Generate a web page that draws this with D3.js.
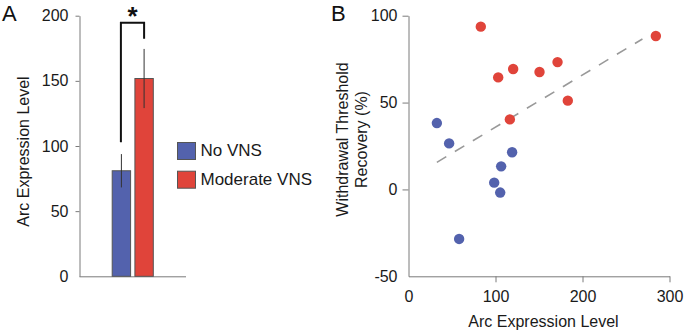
<!DOCTYPE html>
<html>
<head>
<meta charset="utf-8">
<script src="https://cdn.jsdelivr.net/npm/d3@7"></script>
<style>
  html, body { margin: 0; padding: 0; background: #fff; }
  svg { display: block; font-family: "Liberation Sans", Arial, sans-serif; }
</style>
</head>
<body>
<svg id="chart" width="685" height="332"></svg>
<script>
// ---------- Data ----------
const barCategories = ["No VNS", "Moderate VNS"];
const barMeans = [81, 151.8];
const barErrors = [12.8, 22.7];
const yTicksA = [0, 50, 100, 150, 200];
const sigBracketY = [102.8, 194.6, 182.3]; // left bottom, top, right bottom (Arc level units)
const sigLabel = "*";

const noVnsX = [32.6, 46.7, 119.1, 106.5, 98.5, 105.4, 58.2];
const noVnsY = [38.2, 26.5, 21.4, 13.3, 3.9, -1.8, -28.5];
const modVnsX = [83.1, 284.3, 171.3, 120.3, 150.6, 103.1, 183.1, 116.5];
const modVnsY = [93.7, 88.3, 73.3, 69.3, 67.6, 64.5, 51.1, 40.3];
const fitLineX = [32.6, 268.9];
const fitLineY = [15.6, 86.6];
const xTicksB = [0, 100, 200, 300];
const yTicksB = [-50, 0, 50, 100];

const colors = ["#5362ad", "#e0443a"];
const axisColor = "#7a7a7a";
const textColor = "#1a1a1a";

const svg = d3.select("#chart");

// ---------- Panel A ----------
const yA = d3.scaleLinear().domain([0, 200]).range([276.3, 15.7]);
const xA = d3.scaleBand().domain(barCategories).range([79.5, 186]).paddingInner(0.19).paddingOuter(1.44);

const gA = svg.append("g");

// y axis
const axA = gA.append("g").attr("transform", "translate(79.5,0)")
  .call(d3.axisLeft(yA).tickValues(yTicksA).tickFormat(d => String(d)).tickSize(4).tickSizeOuter(0).tickPadding(7));
axA.select(".domain").attr("stroke", axisColor);
axA.selectAll(".tick line").attr("stroke", axisColor);
axA.selectAll(".tick").filter(d => d === 0).select("line").remove();
axA.selectAll(".tick text").attr("font-size", 16).attr("fill", textColor).attr("font-family", "Liberation Sans, Arial, sans-serif");

// x baseline
gA.append("line").attr("x1", 79.5).attr("x2", 186).attr("y1", yA(0) + 0.5).attr("y2", yA(0) + 0.5)
  .attr("stroke", axisColor);

// bars
gA.selectAll("rect.bar").data(barCategories).join("rect")
  .attr("class", "bar")
  .attr("x", d => xA(d))
  .attr("width", xA.bandwidth())
  .attr("y", (d, i) => yA(barMeans[i]))
  .attr("height", (d, i) => yA(0) - yA(barMeans[i]))
  .attr("fill", (d, i) => colors[i])
  .attr("stroke", "#555").attr("stroke-width", 1);

// error bars
gA.selectAll("line.err").data(barCategories).join("line")
  .attr("class", "err")
  .attr("x1", d => xA(d) + xA.bandwidth() / 2)
  .attr("x2", d => xA(d) + xA.bandwidth() / 2)
  .attr("y1", (d, i) => yA(barMeans[i] + barErrors[i]))
  .attr("y2", (d, i) => yA(barMeans[i] - barErrors[i]))
  .attr("stroke", "#333").attr("stroke-width", 1);

// significance bracket
const bxL = xA(barCategories[0]) + xA.bandwidth() / 2 - 0.5;
const bxR = xA(barCategories[1]) + xA.bandwidth() / 2;
gA.append("path")
  .attr("d", `M${bxL},${yA(sigBracketY[0])}V${yA(sigBracketY[1])}H${bxR}V${yA(sigBracketY[2])}`)
  .attr("fill", "none").attr("stroke", "#111").attr("stroke-width", 2);
gA.append("text").attr("x", (bxL + bxR) / 2).attr("y", 25)
  .attr("text-anchor", "middle").attr("font-size", 26).attr("font-weight", "bold")
  .attr("fill", "#111").text(sigLabel);

// y title
gA.append("text").attr("transform", "translate(28.5,151.5) rotate(-90)")
  .attr("text-anchor", "middle").attr("font-size", 16).attr("fill", textColor)
  .text("Arc Expression Level");

// panel label
svg.append("text").attr("x", 2).attr("y", 21).attr("font-size", 22).attr("fill", "#111").text("A");

// legend
const leg = svg.append("g");
barCategories.forEach((c, i) => {
  leg.append("rect").attr("x", 177.5).attr("y", 142.5 + i * 28.7).attr("width", 18).attr("height", 17)
    .attr("fill", colors[i]).attr("stroke", "#555").attr("stroke-width", 1);
  leg.append("text").attr("x", 200.5).attr("y", 156.3 + i * 28.3).attr("font-size", 17)
    .attr("fill", textColor).text(c);
});

// ---------- Panel B ----------
const xB = d3.scaleLinear().domain([0, 300]).range([408.5, 669.5]);
const yB = d3.scaleLinear().domain([-50, 100]).range([276.3, 15.7]);
const gB = svg.append("g");

const axBx = gB.append("g").attr("transform", `translate(0,${yB(-50)})`)
  .call(d3.axisBottom(xB).tickValues(xTicksB).tickFormat(d => String(d)).tickSize(6).tickSizeOuter(0).tickPadding(8));
axBx.select(".domain").attr("stroke", axisColor);
axBx.selectAll(".tick line").attr("stroke", axisColor);
axBx.selectAll(".tick").filter(d => d === 0).select("line").remove();
axBx.selectAll(".tick text").attr("font-size", 16).attr("fill", textColor).attr("font-family", "Liberation Sans, Arial, sans-serif");

const axBy = gB.append("g").attr("transform", `translate(${xB(0)},0)`)
  .call(d3.axisLeft(yB).tickValues(yTicksB).tickFormat(d => String(d)).tickSize(6).tickSizeOuter(0).tickPadding(5));
axBy.select(".domain").attr("stroke", axisColor);
axBy.selectAll(".tick line").attr("stroke", axisColor);
axBy.selectAll(".tick").filter(d => d === -50).select("line").remove();
axBy.selectAll(".tick text").attr("font-size", 16).attr("fill", textColor).attr("font-family", "Liberation Sans, Arial, sans-serif");

// fit line
gB.append("line")
  .attr("x1", xB(fitLineX[0])).attr("y1", yB(fitLineY[0]))
  .attr("x2", xB(fitLineX[1])).attr("y2", yB(fitLineY[1]))
  .attr("stroke", "#999").attr("stroke-width", 1.6).attr("stroke-dasharray", "11,10");

// points
const ptsNo = noVnsX.map((x, i) => [x, noVnsY[i]]);
const ptsMod = modVnsX.map((x, i) => [x, modVnsY[i]]);
gB.selectAll("circle.no").data(ptsNo).join("circle").attr("class", "no")
  .attr("cx", d => xB(d[0])).attr("cy", d => yB(d[1])).attr("r", 5.2).attr("fill", colors[0]);
gB.selectAll("circle.mod").data(ptsMod).join("circle").attr("class", "mod")
  .attr("cx", d => xB(d[0])).attr("cy", d => yB(d[1])).attr("r", 5.2).attr("fill", colors[1]);

// titles
gB.append("text").attr("x", 543.5).attr("y", 327.3).attr("text-anchor", "middle")
  .attr("font-size", 16).attr("fill", textColor).text("Arc Expression Level");
gB.append("text").attr("transform", "translate(348.4,139.5) rotate(-90)").attr("text-anchor", "middle")
  .attr("font-size", 16).attr("fill", textColor).text("Withdrawal Threshold");
gB.append("text").attr("transform", "translate(366.5,139.5) rotate(-90)").attr("text-anchor", "middle")
  .attr("font-size", 16).attr("fill", textColor).text("Recovery (%)");

svg.append("text").attr("x", 331).attr("y", 21).attr("font-size", 22).attr("fill", "#111").text("B");
</script>
</body>
</html>
